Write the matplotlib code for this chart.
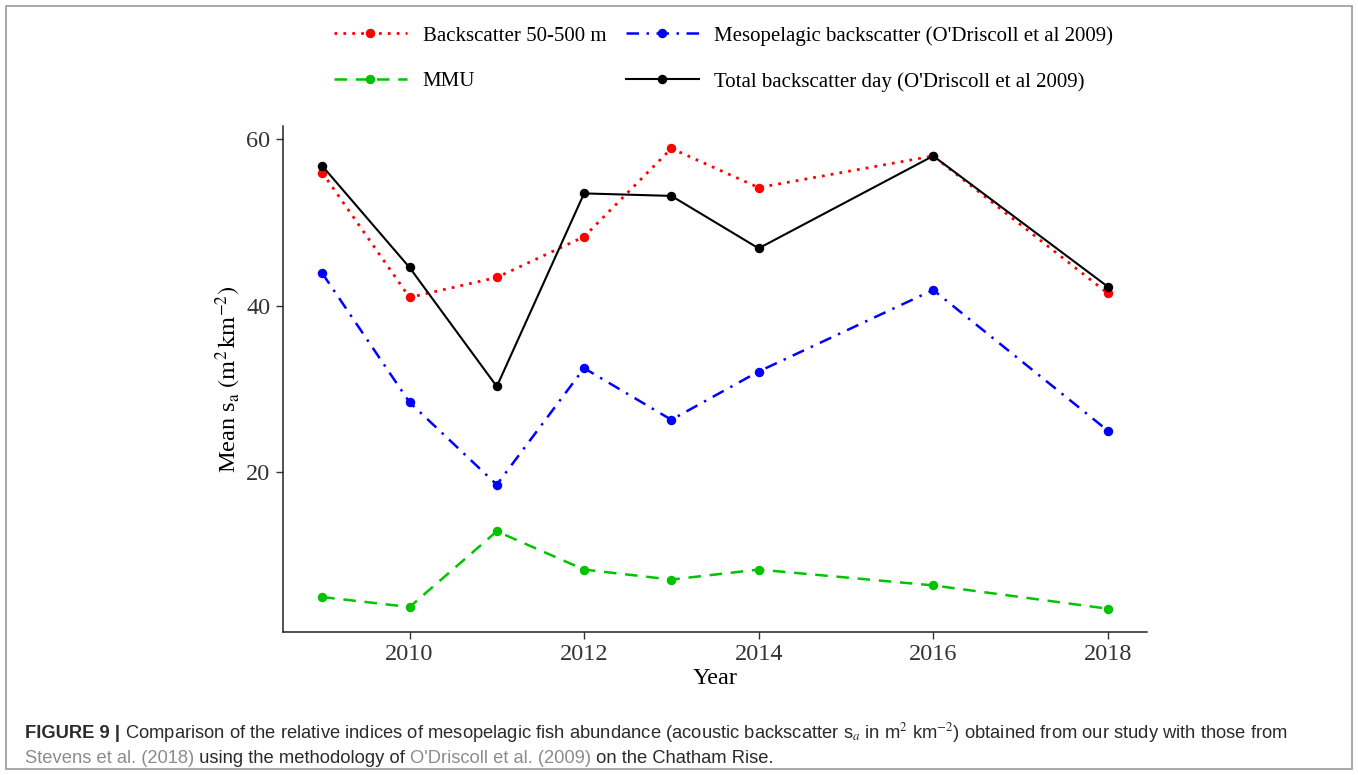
import matplotlib
matplotlib.use("Agg")
import matplotlib.pyplot as plt
from matplotlib.patches import Rectangle

plt.rcParams['mathtext.fontset'] = 'stix'

# survey years and mean s_a values (m2 km-2) per series
years = [2009, 2010, 2011, 2012, 2013, 2014, 2016, 2018]
backscatter_50_500 = [56.0, 41.0, 43.4, 48.3, 58.9, 54.2, 58.0, 41.5]
mesopelagic = [43.9, 28.4, 18.5, 32.5, 26.3, 32.1, 41.9, 25.0]
mmu = [5.0, 3.8, 12.9, 8.3, 7.1, 8.3, 6.4, 3.6]
total_day = [56.8, 44.6, 30.3, 53.5, 53.2, 46.9, 58.0, 42.3]

labels = ['Backscatter 50-500 m', 'MMU',
          "Mesopelagic backscatter (O'Driscoll et al 2009)",
          "Total backscatter day (O'Driscoll et al 2009)"]
xticks = [2010, 2012, 2014, 2016, 2018]
yticks = [20, 40, 60]

W, H = 1358, 775
fig = plt.figure(figsize=(W / 100, H / 100), dpi=100)
ax = fig.add_axes([283 / W, 1 - 632 / H, (1147 - 283) / W, (632 - 126) / H])

serif = 'Liberation Serif'
l1, = ax.plot(years, backscatter_50_500, color='#ff0000', ls=(0, (1, 2.2)), lw=2,
              marker='o', ms=5.8, label=labels[0])
l3, = ax.plot(years, mesopelagic, color='#0000ff', ls=(0, (5, 3, 1, 3)), lw=1.8,
              marker='o', ms=5.8, label=labels[2])
l2, = ax.plot(years, mmu, color='#00c400', ls=(0, (5, 3.5)), lw=1.8,
              marker='o', ms=5.8, label=labels[1])
l4, = ax.plot(years, total_day, color='black', ls='-', lw=1.5,
              marker='o', ms=5.8, label=labels[3])

ax.set_xlim(2008.55, 2018.45)
ax.set_ylim(0.8, 61.6)
ax.set_xticks(xticks)
ax.set_yticks(yticks)
for s in ['top', 'right']:
    ax.spines[s].set_visible(False)
for s in ['left', 'bottom']:
    ax.spines[s].set_linewidth(1.1)
    ax.spines[s].set_color('#222222')
ax.tick_params(length=5, width=1, color='#333333', labelsize=17.5,
               labelcolor='#333333', pad=4)
for t in ax.get_xticklabels() + ax.get_yticklabels():
    t.set_fontfamily(serif)

ax.set_xlabel('Year', fontfamily=serif, fontsize=17.5, labelpad=2)
ax.set_ylabel(r'Mean s$_\mathrm{a}$ $\left(\mathrm{m}^2\,\mathrm{km}^{-2}\right)$',
              fontfamily=serif, fontsize=17.5, labelpad=2)

fig.legend(handles=[l1, l2, l3, l4], labels=labels, ncol=2, frameon=False,
           loc='upper left', bbox_to_anchor=(334 / W, 1 - 26 / H),
           borderpad=0, borderaxespad=0, handlelength=3.5, handletextpad=0.75,
           columnspacing=0.95, labelspacing=1.25,
           prop={'family': serif, 'size': 15.0})

# outer frame
fig.patches.append(Rectangle((6 / W, 6 / H), 1 - 12 / W, 1 - 12 / H,
                             transform=fig.transFigure, fill=False,
                             edgecolor='#9a9a9a', lw=1.2))

# caption, built piece by piece so the styles can change mid-line
sans = 'Liberation Sans'
dark, grey = '#2b2b2b', '#8c8c8c'


def caption_line(parts, x0, y0):
    x = x0
    renderer = fig.canvas.get_renderer()
    for txt, col, weight in parts:
        t = fig.text(x, y0, txt, color=col, fontweight=weight, fontfamily=sans,
                     fontsize=13.2, va='baseline', ha='left')
        bb = t.get_window_extent(renderer=renderer)
        x += bb.width / W


caption_line([('FIGURE 9 | ', dark, 'bold'),
              ('Comparison of the relative indices of mesopelagic fish abundance '
               r'(acoustic backscatter s$_a$ in m$^2$ km$^{-2}$) obtained from our study '
               'with those from', dark, 'normal')],
             25 / W, 1 - 738 / H)
caption_line([('Stevens et al. (2018)', grey, 'normal'),
              (' using the methodology of ', dark, 'normal'),
              ("O'Driscoll et al. (2009)", grey, 'normal'),
              (' on the Chatham Rise.', dark, 'normal')],
             25 / W, 1 - 763 / H)

fig.savefig('out.png', dpi=100)
